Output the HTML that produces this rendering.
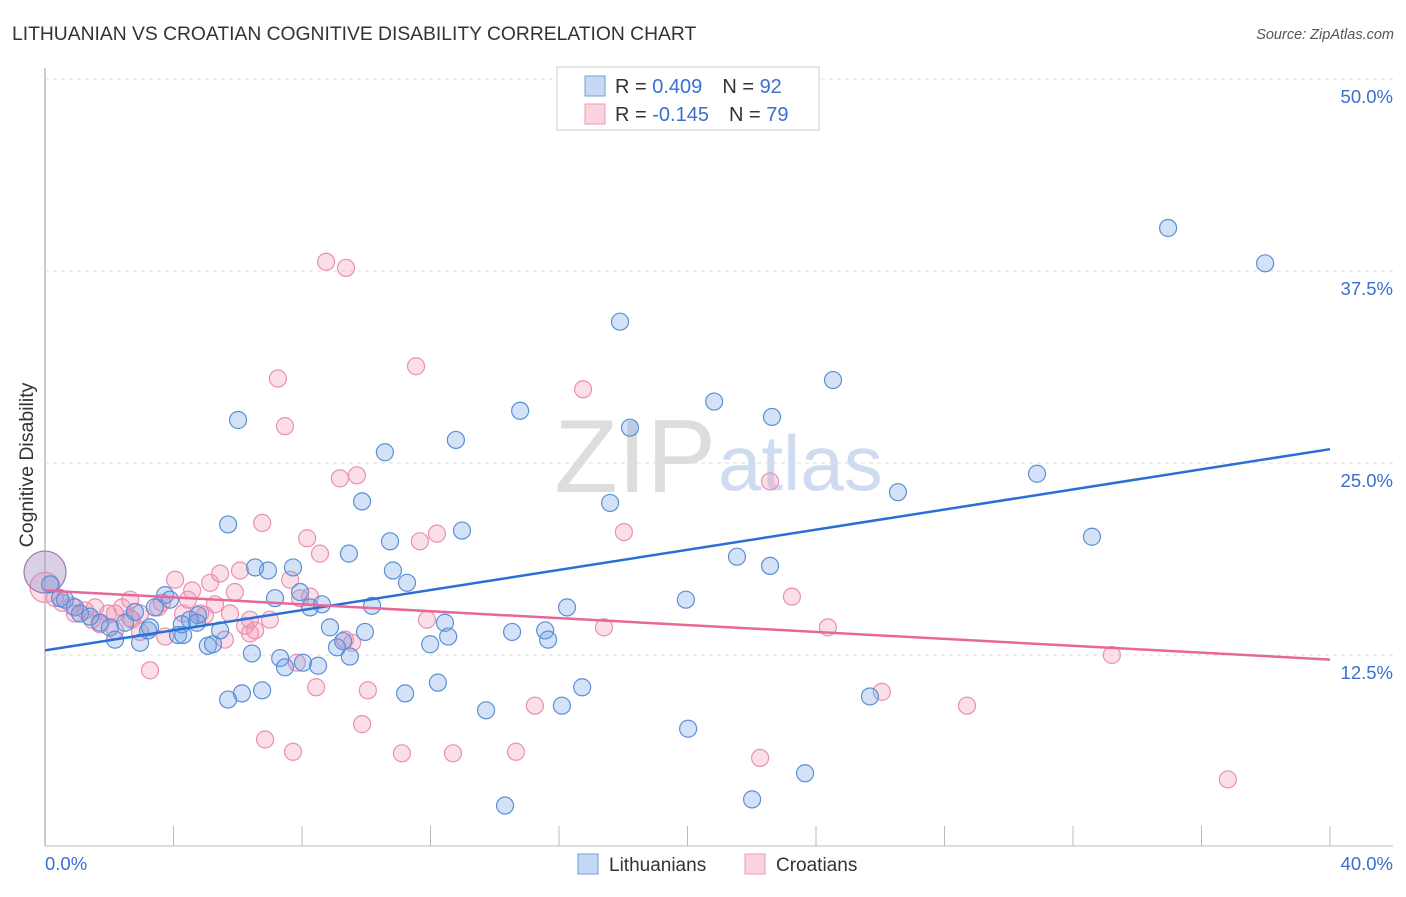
<!DOCTYPE html>
<html><head><meta charset="utf-8"><style>
body{margin:0;background:#fff;font-family:"Liberation Sans",sans-serif;}
svg text{font-family:"Liberation Sans",sans-serif;}
</style></head><body>
<svg id="c" width="1406" height="892" xmlns="http://www.w3.org/2000/svg">
<text x="12" y="40" font-size="19.3" fill="#333">LITHUANIAN VS CROATIAN COGNITIVE DISABILITY CORRELATION CHART</text>
<text x="1394" y="39" font-size="14.5" fill="#555" font-style="italic" text-anchor="end">Source: ZipAtlas.com</text>
<text x="24" y="456" font-size="19.5" fill="#333" text-anchor="middle" transform="rotate(-90 33 456)">Cognitive Disability</text>
<g id="grid"></g>
<text x="716" y="492" font-size="104" fill="#ddd" font-family="Liberation Serif" text-anchor="end">ZIP</text>
<text x="718" y="490" font-size="78" fill="#cfdcf0">atlas</text>
<g id="pts"></g>
<g id="lines"></g>
<g>
<rect x="557" y="67" width="262" height="63" fill="#fff" stroke="#ccc"/>
<rect x="585" y="76" width="20" height="20" fill="#c5d9f5" stroke="#6d9ee0"/>
<rect x="585" y="104" width="20" height="20" fill="#fbd3df" stroke="#ec9ab5"/>
<text x="615" y="93" font-size="20" fill="#333">R = <tspan fill="#3a6fd0">0.409</tspan><tspan dx="20">N = </tspan><tspan fill="#3a6fd0">92</tspan></text>
<text x="615" y="121" font-size="20" fill="#333">R = <tspan fill="#3a6fd0">-0.145</tspan><tspan dx="20">N = </tspan><tspan fill="#3a6fd0">79</tspan></text>
</g>
<g>
<rect x="578" y="854" width="20" height="20" fill="#c5d9f5" stroke="#6d9ee0"/>
<text x="609" y="871" font-size="19" fill="#333">Lithuanians</text>
<rect x="745" y="854" width="20" height="20" fill="#fbd3df" stroke="#ec9ab5"/>
<text x="776" y="871" font-size="19" fill="#333">Croatians</text>
</g>
</svg>
<script>
const yTicks=[12.5,25.0,37.5,50.0];
const xTickVals=[0,4,8,12,16,20,24,28,32,36,40];
const blueX=[0,0.16,0.47,0.62,0.93,1.09,1.40,1.71,2.02,2.18,2.49,2.80,2.96,3.21,3.27,3.74,3.89,4.14,4.30,4.51,4.76,5.07,5.23,5.45,5.70,5.70,6.01,6.13,6.44,6.54,6.76,6.94,7.16,7.32,7.47,7.72,7.94,8.03,8.25,8.50,8.62,8.87,9.09,9.28,9.46,9.49,9.87,9.96,10.18,10.58,10.74,10.83,11.21,11.27,11.99,12.23,12.45,12.55,12.79,12.98,13.73,14.32,14.54,14.79,15.57,15.66,16.09,16.25,16.72,17.59,17.90,18.21,19.95,20.02,20.83,21.54,22.57,22.63,23.66,24.53,25.68,26.55,30.88,32.59,34.96,37.98,22.01,4.73,4.26,3.42];
const blueY=[17.9,17.1,16.2,16.1,15.6,15.2,15.0,14.6,14.3,13.5,14.6,15.3,13.3,14.1,14.3,16.4,16.1,13.8,13.8,14.8,15.1,13.1,13.2,14.1,9.6,21.0,27.8,10.0,12.6,18.2,10.2,18.0,16.2,12.3,11.7,18.2,16.6,12.0,15.6,11.8,15.8,14.3,13.0,13.4,19.1,12.4,22.5,14.0,15.7,25.7,19.9,18.0,10.0,17.2,13.2,10.7,14.6,13.7,26.5,20.6,8.9,2.7,14.0,28.4,14.1,13.5,9.2,15.6,10.4,22.4,34.2,27.3,16.1,7.7,29.0,18.9,18.3,28.0,4.8,30.4,9.8,23.1,24.3,20.2,40.3,38.0,3.1,14.6,14.5,15.6];
const pinkX=[0,0.31,0.53,0.84,1.25,1.46,1.71,1.96,2.18,2.40,2.65,2.71,2.96,3.27,3.52,3.64,3.74,4.05,4.30,4.45,4.58,4.83,4.98,5.14,5.29,5.45,5.60,5.76,5.91,6.07,6.23,6.38,6.54,6.76,6.85,7.00,7.25,7.47,7.63,7.72,7.84,7.94,8.16,8.44,8.56,8.75,9.18,9.37,9.56,9.71,9.87,10.05,11.11,11.55,11.67,11.89,12.20,12.70,14.66,15.25,16.75,17.40,18.02,22.26,22.57,23.25,24.37,26.05,28.70,33.21,36.82,9.34,8.25,6.38,2.96,2.18,1.56,0.93,2.65];
const pinkY=[16.9,16.2,15.9,15.7,15.4,14.8,14.5,15.2,14.1,15.6,16.1,14.8,14.0,11.5,15.6,15.9,13.7,17.4,15.2,16.1,16.7,15.2,15.1,17.2,15.8,17.8,13.5,15.2,16.6,18.0,14.4,13.9,14.1,21.1,7.0,14.8,30.5,27.4,17.4,6.2,12.0,16.2,20.1,10.4,19.1,38.1,24.0,37.7,13.3,24.2,8.0,10.2,6.1,31.3,19.9,14.8,20.4,6.1,6.2,9.2,29.8,14.3,20.5,5.8,23.8,16.3,14.3,10.1,9.2,12.5,4.4,13.5,16.3,14.8,15.2,15.2,15.6,15.2,14.9];
const blueLine=[12.8,25.9];
const pinkLine=[16.7,12.2];
const X=v=>45+v/40*1285, Y=v=>847-v/12.5*192;
const NS="http://www.w3.org/2000/svg";
function mk(tag,attrs,parent){const e=document.createElementNS(NS,tag);for(const k in attrs)e.setAttribute(k,attrs[k]);parent.appendChild(e);return e;}
const grid=document.getElementById('grid');
mk('line',{x1:45,y1:68,x2:45,y2:846,stroke:'#bbb','stroke-width':1.5},grid);
mk('line',{x1:45,y1:846,x2:1393,y2:846,stroke:'#bbb','stroke-width':1},grid);
yTicks.forEach(t=>{
 const l=mk('line',{x1:45,x2:1393,y1:Y(t),y2:Y(t),stroke:'#ddd','stroke-dasharray':'4,4'},grid);
 
 
 const tx=mk('text',{x:1393,y:Y(t)+24,'font-size':18.5,fill:'#3a6fd0','text-anchor':'end'},grid);
 tx.textContent=t.toFixed(1)+'%';
 
 
});
xTickVals.forEach(t=>{
 const l=mk('line',{x1:X(t),x2:X(t),y1:826,y2:846,stroke:'#bbb'},grid);
 
 
});
[[0,'0.0%','start',45],[40,'40.0%','end',1393]].forEach(a=>{
 const tx=mk('text',{x:a[3],y:870,'font-size':18.5,fill:'#3a6fd0','text-anchor':a[2]},grid);
 tx.textContent=a[1];
 
 
});
const pts=document.getElementById('pts');
pinkX.forEach((x,i)=>{
 const c=mk('circle',{cx:X(x),cy:Y(pinkY[i]),r:i==0?15:8.5,fill:'rgba(242,150,180,0.3)',stroke:'#ec8fb0','stroke-width':1.2},pts);
 
 
});
blueX.forEach((x,i)=>{
 const c=mk('circle',{cx:X(x),cy:Y(blueY[i]),r:i==0?21:8.5,fill:i==0?'rgba(170,150,200,0.45)':'rgba(110,160,230,0.3)',stroke:i==0?'#9a7ab8':'#5b8fd6','stroke-width':1.2},pts);
 
 
});
const lines=document.getElementById('lines');
const bl=mk('line',{x1:X(0),y1:Y(blueLine[0]),x2:X(40),y2:Y(blueLine[1]),stroke:'#2a6fd6','stroke-width':2.5},lines);


const pl=mk('line',{x1:X(0),y1:Y(pinkLine[0]),x2:X(40),y2:Y(pinkLine[1]),stroke:'#e8679a','stroke-width':2.5},lines);


</script>
</body></html>
